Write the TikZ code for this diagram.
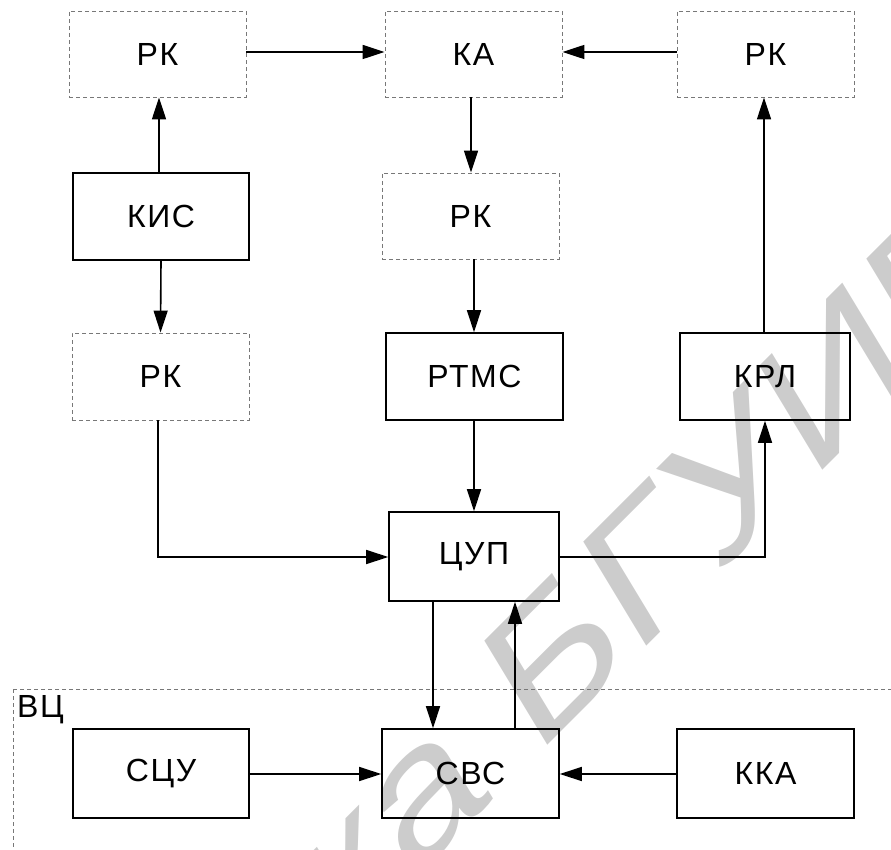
\documentclass[tikz,border=0pt]{standalone}
\usepackage{fontspec}
\setmainfont{Liberation Sans}
\usetikzlibrary{arrows.meta}
\definecolor{wm}{RGB}{204,204,204}
\definecolor{dashgray}{RGB}{120,120,120}
\tikzset{
  lbl/.style={font=\fontsize{32}{32}\selectfont\addfontfeature{LetterSpace=5}},
  blk/.style={draw=black, line width=1.6pt, minimum width=176pt, minimum height=87pt, inner sep=0pt, lbl},
  dblk/.style={blk, draw=dashgray, line width=0.9pt, dash pattern=on 4pt off 3pt},
  conn/.style={line width=1.6pt, -{Triangle[length=22pt,width=14pt]}},
  wmtext/.style={transform shape, text=wm, inner sep=0pt, font=\fontsize{176}{176}\selectfont},
}
\begin{document}
\begin{tikzpicture}[x=1pt,y=-1pt]
\useasboundingbox (0,0) rectangle (891,850);
\clip (0,0) rectangle (891,850);
% watermark
\begin{scope}[shift={(634,659)}]
\begin{scope}[cm={0.85,0.85,-0.52,0.86,(0,0)}]
\node[wmtext, anchor=base east] (wma) at (0,0) {ка Б};
\node[wmtext, anchor=base west] (wmb) at (0,0) {ГУИР};
\end{scope}
\end{scope}
% group region
\draw[draw=dashgray, line width=0.9pt, dash pattern=on 4pt off 3pt] (13,689) rectangle (905,870);
\node[anchor=north west, inner sep=0pt, lbl] (vc) at (17,695) {ВЦ};
% nodes
\node[dblk, minimum width=177pt, minimum height=86pt] (rk1) at (157.5,54) {РК};
\node[dblk, minimum width=177pt, minimum height=86pt] (ka) at (473.5,54) {КА};
\node[dblk, minimum width=177pt, minimum height=86pt] (rk2) at (765.5,54) {РК};
\node[blk] (kis) at (161,216.5) {КИС};
\node[dblk, minimum width=177pt, minimum height=86pt] (rk3) at (470.5,216) {РК};
\node[dblk, minimum width=177pt] (rk4) at (160.5,376.5) {РК};
\node[blk, minimum width=177pt] (rtms) at (474.5,376.5) {РТМС};
\node[blk, minimum width=170pt] (krl) at (765,376.5) {КРЛ};
\node[blk, minimum width=170pt, minimum height=89pt] (cup) at (474,556.5) {ЦУП};
\node[blk, minimum height=89pt] (scu) at (161,773.5) {СЦУ};
\node[blk, minimum width=177pt, minimum height=89pt] (svs) at (470.5,773.5) {СВС};
\node[blk, minimum width=177pt, minimum height=89pt] (kka) at (765.5,773.5) {ККА};
% connectors
\draw[conn] (rk1.east |- 0,52) -- (ka.west |- 0,52);
\draw[conn] (rk2.west |- 0,52) -- (ka.east |- 0,52);
\draw[conn] (kis.north -| 159,0) -- (rk1.south -| 159,0);
\draw[conn] (kis.south) -- (rk4.north);
\draw[conn] (ka.south -| 471,0) -- (rk3.north -| 471,0);
\draw[conn] (rk3.south -| 474,0) -- (rtms.north -| 474,0);
\draw[conn] (rtms.south -| 474,0) -- (cup.north -| 474,0);
\draw[conn] (rk4.south -| 158,0) |- (cup.west |- 0,557);
\draw[conn] (cup.east |- 0,557) -| (krl.south -| 765,0);
\draw[conn] (krl.north -| 764,0) -- (rk2.south -| 764,0);
\draw[conn] (cup.south -| 433,0) -- (svs.north -| 433,0);
\draw[conn] (svs.north -| 515,0) -- (cup.south -| 515,0);
\draw[conn] (scu.east |- 0,774) -- (svs.west |- 0,774);
\draw[conn] (kka.west |- 0,774) -- (svs.east |- 0,774);
\end{tikzpicture}
\end{document}
